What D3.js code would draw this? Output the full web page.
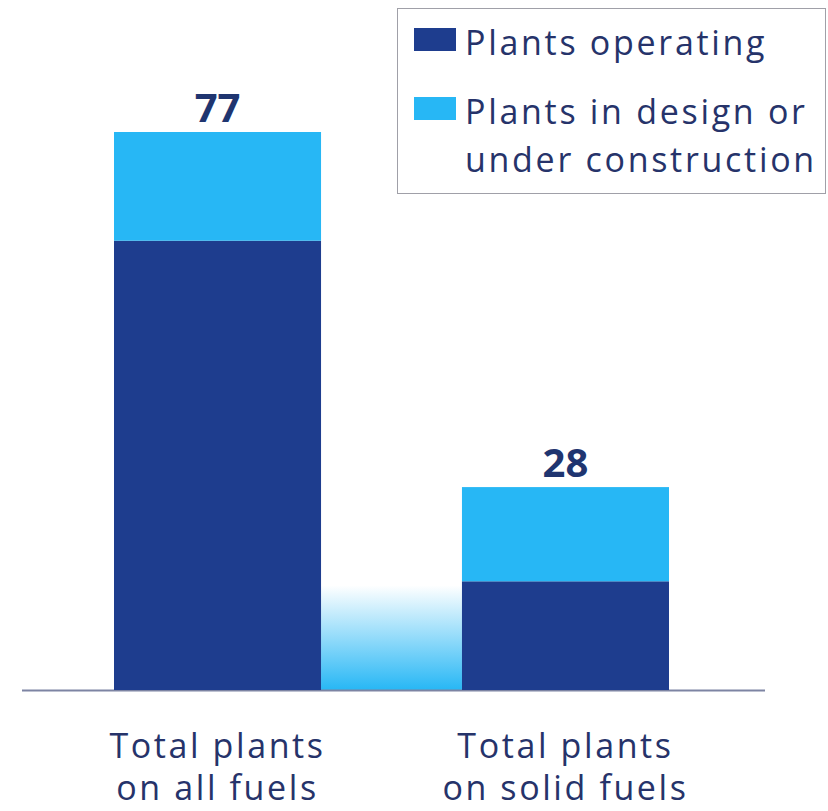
<!DOCTYPE html>
<html>
<head>
<meta charset="utf-8">
<script src="https://cdn.jsdelivr.net/npm/d3@7/dist/d3.min.js"></script>
<style>
  body { margin: 0; background: #fff; }
  text { font-family: "Open Sans", Lato, sans-serif; fill: #26336a; }
</style>
</head>
<body>
<div id="chart"></div>
<script>
let svgWidth = 828;
let svgHeight = 811;

// Data
let categories = ["Total plants on all fuels", "Total plants on solid fuels"];
let categoryLines = [["Total plants", "on all fuels"], ["Total plants", "on solid fuels"]];
let operating = [62, 15];
let inDesign = [15, 13];
let totals = [77, 28];
let seriesNames = ["Plants operating", "Plants in design or under construction"];
let seriesLines = [["Plants operating"], ["Plants in design or", "under construction"]];

let darkBlue = "#1e3d8e";
let lightBlue = "#27b7f5";

let svg = d3.select("#chart")
            .append("svg")
            .attr("width", svgWidth)
            .attr("height", svgHeight);

// Scales
let x = d3.scaleBand()
          .domain(categories)
          .range([114, 669])
          .paddingInner(0.405)
          .paddingOuter(0);

let y = d3.scaleLinear()
          .domain([0, 77])
          .range([690, 132]);

// gradient between the bars
let defs = svg.append("defs");
let grad = defs.append("linearGradient")
               .attr("id", "gap")
               .attr("x1", 0).attr("y1", 0)
               .attr("x2", 0).attr("y2", 1);
grad.append("stop").attr("offset", "0%").attr("stop-color", "#ffffff");
grad.append("stop").attr("offset", "100%").attr("stop-color", lightBlue);

let gapLeft = x(categories[0]) + x.bandwidth();
let gapRight = x(categories[1]);
svg.append("rect")
   .attr("x", gapLeft)
   .attr("y", y(operating[1]) + 4)
   .attr("width", gapRight - gapLeft)
   .attr("height", y(0) - y(operating[1]) - 4)
   .attr("fill", "url(#gap)");

// baseline
svg.append("line")
   .attr("x1", 22).attr("x2", 765)
   .attr("y1", y(0) + 0.5).attr("y2", y(0) + 0.5)
   .attr("stroke", "#7d84a3")
   .attr("stroke-width", 2);

// Stacked bars
let stackData = categories.map((c, i) => ({ cat: c, operating: operating[i], design: inDesign[i] }));
let stack = d3.stack().keys(["operating", "design"])(stackData);
let colors = [darkBlue, lightBlue];

svg.selectAll("g.series")
   .data(stack)
   .enter()
   .append("g")
   .attr("class", "series")
   .attr("fill", (d, i) => colors[i])
   .selectAll("rect")
   .data(d => d)
   .enter()
   .append("rect")
   .attr("x", d => x(d.data.cat))
   .attr("y", d => y(d[1]))
   .attr("width", x.bandwidth())
   .attr("height", d => y(d[0]) - y(d[1]));

// Totals on top
svg.selectAll("text.total")
   .data(totals)
   .enter()
   .append("text")
   .attr("class", "total")
   .attr("x", (d, i) => x(categories[i]) + x.bandwidth() / 2)
   .attr("y", d => y(d) - 10)
   .attr("text-anchor", "middle")
   .attr("font-size", 40)
   .attr("font-weight", "bold")
   .style("fill", "#1f3570")
   .text(d => d);

// Category labels
categoryLines.forEach((lines, i) => {
    let cx = x(categories[i]) + x.bandwidth() / 2;
    let t = svg.append("text")
               .attr("x", cx)
               .attr("y", 758)
               .attr("text-anchor", "middle")
               .attr("font-size", 34)
               .attr("letter-spacing", 2.6);
    lines.forEach((l, j) => {
        t.append("tspan")
         .attr("x", cx)
         .attr("dy", j === 0 ? 0 : 42)
         .text(l);
    });
});

// Legend
let legend = svg.append("g");
legend.append("rect")
      .attr("x", 397.5).attr("y", 8.5)
      .attr("width", 428).attr("height", 185)
      .attr("fill", "none")
      .attr("stroke", "#a0a0a8")
      .attr("stroke-width", 1);

let legendTop = [28, 97];
seriesNames.forEach((s, i) => {
    legend.append("rect")
          .attr("x", 414).attr("y", legendTop[i])
          .attr("width", 42).attr("height", 23)
          .attr("fill", colors[i]);
    let t = legend.append("text")
                  .attr("x", 465)
                  .attr("y", legendTop[i] + 27)
                  .attr("font-size", 34)
                  .attr("letter-spacing", 2.7);
    seriesLines[i].forEach((l, j) => {
        t.append("tspan")
         .attr("x", 465)
         .attr("dy", j === 0 ? 0 : 48)
         .text(l);
    });
});
</script>
</body>
</html>
